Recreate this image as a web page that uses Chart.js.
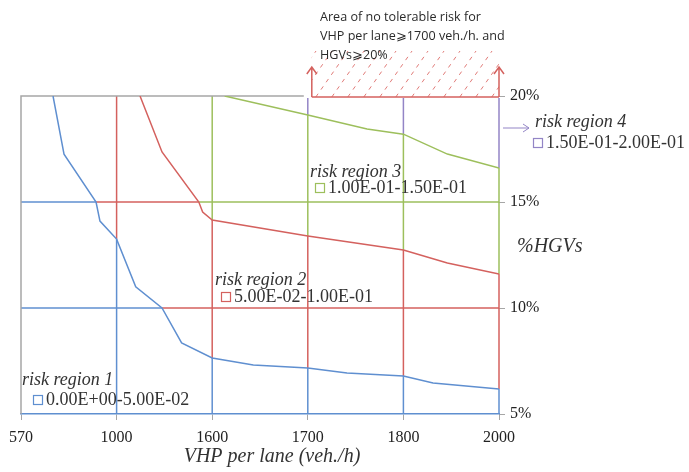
<!DOCTYPE html>
<html>
<head>
<meta charset="utf-8">
<script src="https://cdn.jsdelivr.net/npm/chart.js@4.4.1/dist/chart.umd.min.js"></script>
<style>
  html, body { margin: 0; padding: 0; background: #fff; }
  #wrap { width: 689px; height: 472px; }
</style>
</head>
<body>
<div id="wrap"><canvas id="riskChart" width="689" height="472"></canvas></div>
<script>
// VHP per lane categories (evenly spaced on the axis)
const xLabels = ["570", "1000", "1600", "1700", "1800", "2000"];
const yTicks = [5, 10, 15, 20];

// Contour boundaries, x = position between categories, y = %HGVs
const blueX = [0.335, 0.45, 0.785, 0.826, 1.0, 1.2, 1.475, 1.68, 2.0, 2.43, 3.0, 3.41, 4.0, 4.31, 5.0];
const blueY = [20, 17.26, 15.0, 14.1, 13.25, 11.0, 10.0, 8.35, 7.64, 7.31, 7.17, 6.93, 6.79, 6.46, 6.18];
const redX = [1.245, 1.475, 1.86, 1.9, 2.0, 3.0, 4.0, 4.46, 5.0];
const redY = [20, 17.36, 15.0, 14.53, 14.15, 13.4, 12.74, 12.12, 11.6];
const greenX = [2.13, 3.0, 3.62, 4.0, 4.46, 5.0];
const greenY = [20, 19.1, 18.44, 18.2, 17.26, 16.6];

const regionNames = ["risk region 1", "risk region 2", "risk region 3", "risk region 4"];
const regionRanges = ["0.00E+00-5.00E-02", "5.00E-02-1.00E-01", "1.00E-01-1.50E-01", "1.50E-01-2.00E-01"];

const BLUE = "#5f8fd0", RED = "#d4615e", GREEN = "#9dbf5c", PURPLE = "#9385c6", GRAY = "#a6a6a6";
const regionColors = [BLUE, RED, GREEN, PURPLE];
const SERIF = "'Liberation Serif', 'Times New Roman', serif";

function pts(xs, ys) {
    return xs.map((x, i) => ({ x: x, y: ys[i] }));
}

// y of a boundary at a given x (20 if the curve has not started yet)
function yAt(xs, ys, x) {
    if (x <= xs[0]) return 20;
    for (let i = 1; i < xs.length; i++) {
        if (x <= xs[i]) {
            let t = (x - xs[i - 1]) / (xs[i] - xs[i - 1]);
            return ys[i - 1] + t * (ys[i] - ys[i - 1]);
        }
    }
    return ys[ys.length - 1];
}

// x of a boundary at a given y (5 = right edge if never reached)
function xAt(xs, ys, y) {
    for (let i = 1; i < ys.length; i++) {
        if (y <= ys[i - 1] && y >= ys[i]) {
            let t = (ys[i - 1] - y) / (ys[i - 1] - ys[i]);
            return xs[i - 1] + t * (xs[i] - xs[i - 1]);
        }
    }
    return 5;
}

const curves = [[blueX, blueY], [redX, redY], [greenX, greenY]];

// Grid lines coloured by the region they fall in
const contourGrid = {
    id: "contourGrid",
    beforeDatasetsDraw(chart) {
        const { ctx, chartArea: a, scales: { x, y } } = chart;
        ctx.save();
        ctx.lineWidth = 1.5;
        // vertical lines
        for (let k = 1; k < xLabels.length; k++) {
            let cuts = [5].concat(curves.map(c => yAt(c[0], c[1], k)), [20]);
            let px = x.getPixelForValue(k);
            for (let s = 0; s < 4; s++) {
                if (cuts[s + 1] <= cuts[s]) continue;
                let y0 = y.getPixelForValue(cuts[s]);
                let y1 = y.getPixelForValue(cuts[s + 1]);
                if (s === 3) y1 += 2;
                ctx.strokeStyle = regionColors[s];
                ctx.beginPath(); ctx.moveTo(px, y0); ctx.lineTo(px, y1); ctx.stroke();
            }
        }
        // horizontal lines
        [10, 15].forEach(v => {
            let cuts = [0].concat(curves.map(c => xAt(c[0], c[1], v)), [5]);
            let py = y.getPixelForValue(v);
            for (let s = 0; s < 4; s++) {
                if (cuts[s + 1] <= cuts[s]) continue;
                ctx.strokeStyle = regionColors[s];
                ctx.beginPath();
                ctx.moveTo(x.getPixelForValue(cuts[s]), py);
                ctx.lineTo(x.getPixelForValue(cuts[s + 1]), py);
                ctx.stroke();
            }
        });
        // plot border left / top
        ctx.strokeStyle = GRAY;
        ctx.beginPath();
        ctx.moveTo(a.left, a.bottom);
        ctx.lineTo(a.left, a.top);
        ctx.lineTo(x.getPixelForValue(3) - 4, a.top);
        ctx.stroke();
        ctx.restore();
    }
};

// Texts, legend squares and the hatched area
const annotations = {
    id: "annotations",
    afterDraw(chart) {
        const { ctx, chartArea: a, scales: { x, y } } = chart;
        ctx.save();

        // hatched "no tolerable risk" area above 20% from 1700 to 2000
        let hx0 = x.getPixelForValue(3) + 4, hx1 = x.getPixelForValue(5);
        let hb = y.getPixelForValue(20) + 1, ht = hb - 46;
        ctx.save();
        ctx.beginPath(); ctx.rect(hx0, ht, hx1 - hx0, hb - ht); ctx.clip();
        ctx.strokeStyle = "#e07a77"; ctx.lineWidth = 1; ctx.setLineDash([4, 5]);
        for (let sx = hx0 - 60; sx < hx1 + 10; sx += 16) {
            ctx.beginPath(); ctx.moveTo(sx, hb); ctx.lineTo(sx + (hb - ht) * 0.7, ht); ctx.stroke();
        }
        ctx.restore();
        ctx.strokeStyle = RED; ctx.lineWidth = 1.5;
        ctx.beginPath(); ctx.moveTo(hx0, hb); ctx.lineTo(hx1, hb); ctx.stroke();
        [hx0, hx1].forEach(ax => {
            ctx.beginPath();
            ctx.moveTo(ax, hb); ctx.lineTo(ax, hb - 30);
            ctx.moveTo(ax - 5, hb - 23); ctx.lineTo(ax, hb - 30); ctx.lineTo(ax + 5, hb - 23);
            ctx.stroke();
        });
        ctx.fillStyle = "#2a2a2a";
        ctx.font = "12.6px 'Open Sans', sans-serif";
        ctx.textBaseline = "alphabetic";
        ctx.fillText("Area of no tolerable risk for", 320, 21);
        ctx.fillText("VHP per lane\u2a7e1700 veh./h. and", 320, 40);
        ctx.fillText("HGVs\u2a7e20%", 320, 59);

        // arrow to risk region 4
        ctx.strokeStyle = PURPLE; ctx.lineWidth = 1;
        ctx.beginPath();
        ctx.moveTo(503, 128); ctx.lineTo(529, 128);
        ctx.moveTo(523, 124); ctx.lineTo(529, 128); ctx.lineTo(523, 132);
        ctx.stroke();

        // region labels
        const spots = [[22, 385, 33, 405], [215, 285, 221, 302], [310, 177, 315, 193], [535, 127, 533, 148]];
        spots.forEach((p, i) => {
            ctx.fillStyle = "#333";
            ctx.font = "italic 18px " + SERIF;
            ctx.fillText(regionNames[i], p[0], p[1]);
            ctx.strokeStyle = regionColors[i]; ctx.lineWidth = 1.2;
            ctx.strokeRect(p[2] + 0.5, p[3] - 9.5, 9, 9);
            ctx.font = "18px " + SERIF;
            ctx.fillText(regionRanges[i], p[2] + 13, p[3]);
        });

        // axis titles
        ctx.fillStyle = "#333";
        ctx.font = "italic 20px " + SERIF;
        ctx.textAlign = "center";
        ctx.fillText("VHP per lane (veh./h)", 272, 462);
        ctx.textAlign = "left";
        ctx.fillText("%HGVs", 517, 252);
        ctx.restore();
    }
};

new Chart(document.getElementById("riskChart"), {
    type: "line",
    data: {
        datasets: [
            { data: pts(blueX, blueY), borderColor: BLUE },
            { data: pts(redX, redY), borderColor: RED },
            { data: pts(greenX, greenY), borderColor: GREEN }
        ]
    },
    options: {
        responsive: false,
        animation: false,
        layout: { padding: { left: 21, top: 96, right: 0, bottom: 0 } },
        elements: {
            line: { borderWidth: 1.5, tension: 0 },
            point: { radius: 0 }
        },
        plugins: { legend: { display: false }, tooltip: { enabled: false } },
        scales: {
            x: {
                type: "linear", min: 0, max: 5,
                afterFit: s => { s.height = 58; },
                border: { display: true, color: BLUE, width: 1.5 },
                grid: { drawOnChartArea: false, color: GRAY, tickLength: 6 },
                ticks: {
                    stepSize: 1, padding: 8, color: "#222",
                    font: { family: SERIF, size: 16 },
                    callback: v => xLabels[v]
                }
            },
            y: {
                type: "linear", position: "right", min: 5, max: 20,
                afterFit: s => { s.width = 190; },
                border: { display: false },
                grid: { drawOnChartArea: false, color: GRAY, tickLength: 6 },
                afterBuildTicks: s => { s.ticks = yTicks.map(v => ({ value: v })); },
                ticks: {
                    padding: 5, color: "#222",
                    font: { family: SERIF, size: 16 },
                    callback: v => v + "%"
                }
            }
        }
    },
    plugins: [contourGrid, annotations]
});
</script>
</body>
</html>
